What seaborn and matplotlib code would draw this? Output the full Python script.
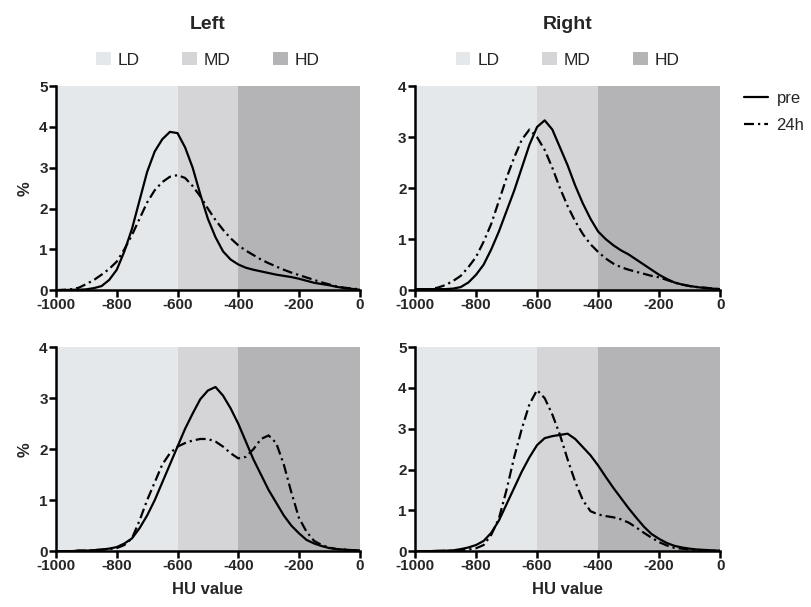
import matplotlib

matplotlib.use("Agg")
import matplotlib.pyplot as plt
import seaborn as sns
from matplotlib.patches import Patch

sns.set_theme(style="ticks")
plt.rcParams["font.family"] = ["Liberation Sans", "DejaVu Sans"]
plt.rcParams["axes.unicode_minus"] = False

# HU grid (x values shared by all curves)
hu = [-1000, -975, -950, -925, -900, -875, -850, -825, -800, -775, -750,
      -725, -700, -675, -650, -625, -600, -575, -550, -525, -500, -475,
      -450, -425, -400, -375, -350, -325, -300, -275, -250, -225, -200,
      -175, -150, -125, -100, -75, -50, -25, 0]

# top-left (Left, first row)
left_top_pre = [0.0, 0.0, 0.01, 0.01, 0.02, 0.05, 0.1, 0.25, 0.5, 0.95, 1.5,
                2.2, 2.9, 3.4, 3.7, 3.88, 3.85, 3.5, 3.0, 2.35, 1.75, 1.3,
                0.95, 0.75, 0.63, 0.55, 0.5, 0.46, 0.42, 0.38, 0.35, 0.32, 0.28,
                0.23, 0.18, 0.15, 0.12, 0.08, 0.05, 0.03, 0.01]
left_top_24h = [0.0, 0.01, 0.02, 0.06, 0.15, 0.25, 0.38, 0.52, 0.7, 1.0, 1.35,
                1.75, 2.15, 2.45, 2.65, 2.78, 2.82, 2.75, 2.55, 2.3, 2.0, 1.72,
                1.48, 1.27, 1.1, 0.97, 0.86, 0.75, 0.66, 0.58, 0.5, 0.43, 0.37,
                0.31, 0.25, 0.19, 0.14, 0.09, 0.06, 0.04, 0.02]

# top-right (Right, first row)
right_top_pre = [0.02, 0.02, 0.02, 0.02, 0.02, 0.03, 0.06, 0.15, 0.3, 0.5, 0.8,
                 1.15, 1.55, 1.95, 2.4, 2.85, 3.2, 3.33, 3.15, 2.8, 2.45, 2.05,
                 1.7, 1.4, 1.15, 1.0, 0.88, 0.78, 0.7, 0.6, 0.5, 0.4, 0.3,
                 0.22, 0.15, 0.11, 0.08, 0.06, 0.04, 0.03, 0.02]
right_top_24h = [0.02, 0.02, 0.02, 0.05, 0.1, 0.18, 0.28, 0.45, 0.65, 0.95, 1.3,
                 1.75, 2.2, 2.6, 2.95, 3.15, 3.0, 2.75, 2.4, 2.0, 1.65, 1.35,
                 1.1, 0.9, 0.75, 0.62, 0.52, 0.45, 0.4, 0.36, 0.32, 0.28, 0.25,
                 0.2, 0.15, 0.11, 0.08, 0.06, 0.05, 0.03, 0.02]

# bottom-left (Left, second row)
left_bot_pre = [0.0, 0.0, 0.0, 0.01, 0.01, 0.02, 0.03, 0.05, 0.08, 0.15, 0.25,
                0.45, 0.7, 1.0, 1.35, 1.7, 2.05, 2.4, 2.7, 2.98, 3.15, 3.22,
                3.05, 2.8, 2.5, 2.15, 1.8, 1.5, 1.2, 0.95, 0.7, 0.5, 0.35,
                0.22, 0.15, 0.1, 0.06, 0.04, 0.03, 0.02, 0.01]
left_bot_24h = [0.0, 0.0, 0.0, 0.01, 0.01, 0.02, 0.03, 0.04, 0.06, 0.12, 0.25,
                0.6, 1.0, 1.35, 1.7, 1.92, 2.05, 2.12, 2.17, 2.2, 2.2, 2.15,
                2.05, 1.92, 1.82, 1.85, 2.0, 2.2, 2.27, 2.12, 1.7, 1.15, 0.65,
                0.38, 0.2, 0.12, 0.07, 0.04, 0.03, 0.02, 0.01]

# bottom-right (Right, second row)
right_bot_pre = [0.0, 0.0, 0.0, 0.01, 0.01, 0.02, 0.05, 0.09, 0.15, 0.25, 0.45,
                 0.75, 1.15, 1.55, 1.95, 2.3, 2.6, 2.77, 2.82, 2.85, 2.88, 2.75,
                 2.55, 2.35, 2.1, 1.82, 1.55, 1.3, 1.05, 0.82, 0.6, 0.42, 0.3,
                 0.2, 0.13, 0.09, 0.06, 0.04, 0.03, 0.02, 0.01]
right_bot_24h = [0.0, 0.0, 0.0, 0.0, 0.01, 0.01, 0.02, 0.04, 0.07, 0.15, 0.4,
                 0.8, 1.5, 2.3, 3.0, 3.6, 3.95, 3.75, 3.35, 2.85, 2.25, 1.7,
                 1.25, 0.98, 0.9, 0.86, 0.83, 0.78, 0.7, 0.58, 0.45, 0.33, 0.22,
                 0.14, 0.08, 0.06, 0.04, 0.03, 0.02, 0.01, 0.01]

# density zones
zone_names = ["LD", "MD", "HD"]
zone_edges = [-1000, -600, -400, 0]
zone_colors = ["#e4e8ea", "#d5d5d7", "#b4b4b7"]

x_ticks = [-1000, -800, -600, -400, -200, 0]

panels = [
    # (rect, pre, 24h, ymax)
    ([0.069, 0.522, 0.374, 0.336], left_top_pre, left_top_24h, 5),
    ([0.511, 0.522, 0.376, 0.336], right_top_pre, right_top_24h, 4),
    ([0.069, 0.092, 0.374, 0.336], left_bot_pre, left_bot_24h, 4),
    ([0.511, 0.092, 0.376, 0.336], right_bot_pre, right_bot_24h, 5),
]

dashdot = (0, (4.5, 1.8, 1.0, 1.8))

fig = plt.figure(figsize=(8.12, 6.07), dpi=100)
axes = []
for rect, pre, h24, ymax in panels:
    ax = fig.add_axes(rect)
    for i in range(3):
        ax.axvspan(zone_edges[i], zone_edges[i + 1], ymin=0, ymax=1,
                   color=zone_colors[i], lw=0, zorder=0)
    sns.lineplot(x=hu, y=pre, ax=ax, color="black", lw=1.6, label="pre",
                 legend=False)
    sns.lineplot(x=hu, y=h24, ax=ax, color="black", lw=1.6,
                 linestyle=dashdot, label="24h", legend=False)
    ax.set_xlim(-1000, 0)
    ax.set_ylim(0, ymax)
    ax.set_xticks(x_ticks)
    ax.set_yticks(range(ymax + 1))
    sns.despine(ax=ax)
    for s in ["left", "bottom"]:
        ax.spines[s].set_linewidth(1.8)
        ax.spines[s].set_color("black")
    ax.tick_params(width=1.8, length=5, color="black", labelsize=11,
                   pad=1, direction="out")
    for lab in ax.get_xticklabels() + ax.get_yticklabels():
        lab.set_fontweight("bold")
    ax.set_xlabel("")
    ax.set_ylabel("")
    axes.append(ax)

for ax in (axes[0], axes[2]):
    ax.set_ylabel("%", fontsize=12, fontweight="bold", labelpad=5)
for ax in (axes[2], axes[3]):
    ax.set_xlabel("HU value", fontsize=12, fontweight="bold", labelpad=6)

axes[0].set_title("Left", fontsize=14, fontweight="bold", pad=41)
axes[1].set_title("Right", fontsize=14, fontweight="bold", pad=41)

# zone legends above each column
zone_handles = [Patch(facecolor=c, edgecolor="none", label=n)
                for n, c in zip(zone_names, zone_colors)]
zone_kw = dict(handles=zone_handles, ncol=3, frameon=False, loc="lower center",
               bbox_to_anchor=(0.5, 1.015), fontsize=12.5, handlelength=0.85,
               handleheight=0.85, handletextpad=0.4, columnspacing=2.45)
axes[0].legend(**zone_kw)

# line-style legend (right of top-right panel)
line_leg = axes[1].legend(handles=axes[1].get_lines()[:2], labels=["pre", "24h"],
                          frameon=False, loc="upper left",
                          bbox_to_anchor=(1.045, 1.025), fontsize=12,
                          handlelength=1.45, handletextpad=0.5,
                          labelspacing=0.7, borderaxespad=0.2)
axes[1].add_artist(line_leg)
axes[1].legend(**zone_kw)

fig.savefig("out.png", dpi=100)
